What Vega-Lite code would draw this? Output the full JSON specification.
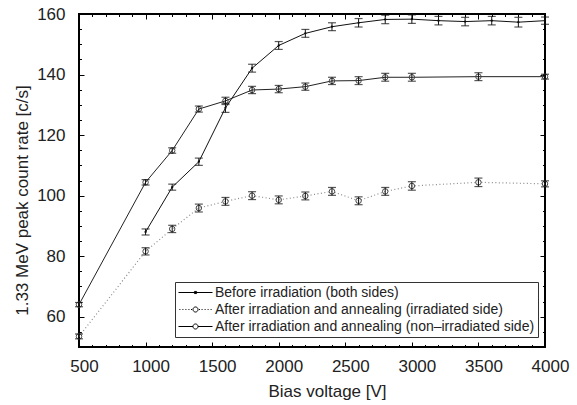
{
  "$schema": "https://vega.github.io/schema/vega-lite/v6.json",
  "width": 466,
  "height": 333,
  "autosize": "none",
  "padding": {"left": 79, "top": 14, "right": 32, "bottom": 58},
  "background": "white",
  "config": {
    "view": {"stroke": "#000", "strokeWidth": 2},
    "axis": {"grid": false, "labelFont": "Liberation Sans", "titleFont": "Liberation Sans", "labelFontSize": 17, "titleFontSize": 17, "labelColor": "#222", "titleColor": "#222", "titleFontWeight": "normal", "tickColor": "#000", "tickWidth": 1, "domain": false, "format": "d"},
    "legend": {"labelFont": "Liberation Sans"}
  },
  "data": {"values": [
    {"s": "Before irradiation (both sides)", "v": 1000, "c": 88.0, "e": 1.0},
    {"s": "Before irradiation (both sides)", "v": 1200, "c": 102.8, "e": 1.0},
    {"s": "Before irradiation (both sides)", "v": 1400, "c": 111.2, "e": 1.2},
    {"s": "Before irradiation (both sides)", "v": 1600, "c": 129.0, "e": 1.5},
    {"s": "Before irradiation (both sides)", "v": 1800, "c": 142.1, "e": 1.3},
    {"s": "Before irradiation (both sides)", "v": 2000, "c": 149.6, "e": 1.3},
    {"s": "Before irradiation (both sides)", "v": 2200, "c": 153.6, "e": 1.3},
    {"s": "Before irradiation (both sides)", "v": 2400, "c": 155.8, "e": 1.3},
    {"s": "Before irradiation (both sides)", "v": 2600, "c": 157.1, "e": 1.4},
    {"s": "Before irradiation (both sides)", "v": 2800, "c": 158.2, "e": 1.4},
    {"s": "Before irradiation (both sides)", "v": 3000, "c": 158.3, "e": 1.4},
    {"s": "Before irradiation (both sides)", "v": 3200, "c": 157.8, "e": 1.4},
    {"s": "Before irradiation (both sides)", "v": 3400, "c": 157.5, "e": 1.4},
    {"s": "Before irradiation (both sides)", "v": 3600, "c": 157.8, "e": 1.4},
    {"s": "Before irradiation (both sides)", "v": 3800, "c": 157.3, "e": 1.6},
    {"s": "Before irradiation (both sides)", "v": 4000, "c": 157.8, "e": 1.2},
    {"s": "After irradiation and annealing (irradiated side)", "v": 500, "c": 53.5, "e": 0.8},
    {"s": "After irradiation and annealing (irradiated side)", "v": 1000, "c": 81.6, "e": 1.2},
    {"s": "After irradiation and annealing (irradiated side)", "v": 1200, "c": 89.0, "e": 1.2},
    {"s": "After irradiation and annealing (irradiated side)", "v": 1400, "c": 95.9, "e": 1.3},
    {"s": "After irradiation and annealing (irradiated side)", "v": 1600, "c": 98.1, "e": 1.3},
    {"s": "After irradiation and annealing (irradiated side)", "v": 1800, "c": 100.0, "e": 1.3},
    {"s": "After irradiation and annealing (irradiated side)", "v": 2000, "c": 98.6, "e": 1.3},
    {"s": "After irradiation and annealing (irradiated side)", "v": 2200, "c": 99.9, "e": 1.3},
    {"s": "After irradiation and annealing (irradiated side)", "v": 2400, "c": 101.4, "e": 1.3},
    {"s": "After irradiation and annealing (irradiated side)", "v": 2600, "c": 98.3, "e": 1.3},
    {"s": "After irradiation and annealing (irradiated side)", "v": 2800, "c": 101.4, "e": 1.3},
    {"s": "After irradiation and annealing (irradiated side)", "v": 3000, "c": 103.2, "e": 1.4},
    {"s": "After irradiation and annealing (irradiated side)", "v": 3500, "c": 104.4, "e": 1.4},
    {"s": "After irradiation and annealing (irradiated side)", "v": 4000, "c": 103.9, "e": 1.0},
    {"s": "After irradiation and annealing (non–irradiated side)", "v": 500, "c": 64.0, "e": 0.7},
    {"s": "After irradiation and annealing (non–irradiated side)", "v": 1000, "c": 104.4, "e": 0.9},
    {"s": "After irradiation and annealing (non–irradiated side)", "v": 1200, "c": 114.9, "e": 0.9},
    {"s": "After irradiation and annealing (non–irradiated side)", "v": 1400, "c": 128.6, "e": 1.0},
    {"s": "After irradiation and annealing (non–irradiated side)", "v": 1600, "c": 131.3, "e": 1.2},
    {"s": "After irradiation and annealing (non–irradiated side)", "v": 1800, "c": 134.9, "e": 1.2},
    {"s": "After irradiation and annealing (non–irradiated side)", "v": 2000, "c": 135.2, "e": 1.2},
    {"s": "After irradiation and annealing (non–irradiated side)", "v": 2200, "c": 136.0, "e": 1.2},
    {"s": "After irradiation and annealing (non–irradiated side)", "v": 2400, "c": 137.9, "e": 1.2},
    {"s": "After irradiation and annealing (non–irradiated side)", "v": 2600, "c": 138.0, "e": 1.3},
    {"s": "After irradiation and annealing (non–irradiated side)", "v": 2800, "c": 139.1, "e": 1.3},
    {"s": "After irradiation and annealing (non–irradiated side)", "v": 3000, "c": 139.1, "e": 1.3},
    {"s": "After irradiation and annealing (non–irradiated side)", "v": 3500, "c": 139.3, "e": 1.3},
    {"s": "After irradiation and annealing (non–irradiated side)", "v": 4000, "c": 139.3, "e": 0.8}
  ]},
  "resolve": {"axis": {"x": "independent", "y": "independent"}},
  "layer": [
    {
      "transform": [{"filter": "datum.s === 'After irradiation and annealing (irradiated side)'"}],
      "mark": {"type": "line", "stroke": "#8a8a8a", "strokeWidth": 1.2, "strokeDash": [1, 2.5]},
      "encoding": {
        "x": {"field": "v", "type": "quantitative", "scale": {"domain": [500, 4000], "nice": false, "zero": false},
              "axis": {"orient": "bottom", "title": "Bias voltage [V]", "values": [500, 1000, 1500, 2000, 2500, 3000, 3500, 4000], "format": "d", "ticks": false, "labelPadding": 11, "labelOffset": 5, "labelFlush": false, "labelOverlap": false, "titleX": 248, "titleY": 49, "titleBaseline": "alphabetic", "titleAlign": "center", "titleAnchor": null}},
        "y": {"field": "c", "type": "quantitative", "scale": {"domain": [50, 160], "nice": false, "zero": false},
              "axis": {"orient": "left", "title": "1.33 MeV peak count rate [c/s]", "values": [60, 80, 100, 120, 140, 160], "format": "d", "ticks": false, "labelPadding": 14, "labelFlush": false, "titleX": -57, "titleY": 186, "titleAngle": -90, "titleBaseline": "middle", "titleAlign": "center", "titleAnchor": null}}
      }
    },
    {
      "transform": [{"filter": "datum.s === 'After irradiation and annealing (non–irradiated side)'"}],
      "mark": {"type": "line", "stroke": "#222", "strokeWidth": 1},
      "encoding": {
        "x": {"field": "v", "type": "quantitative", "scale": {"domain": [500, 4000], "nice": false, "zero": false},
              "axis": {"orient": "bottom", "title": null, "labels": false, "offset": -5, "tickSize": 5, "values": [500, 1000, 1500, 2000, 2500, 3000, 3500, 4000]}},
        "y": {"field": "c", "type": "quantitative", "scale": {"domain": [50, 160], "nice": false, "zero": false},
              "axis": {"orient": "left", "title": null, "labels": false, "offset": -5, "tickSize": 5, "values": [60, 80, 100, 120, 140, 160]}}
      }
    },
    {
      "transform": [{"filter": "datum.s === 'Before irradiation (both sides)'"}],
      "mark": {"type": "line", "stroke": "#111", "strokeWidth": 1},
      "encoding": {
        "x": {"field": "v", "type": "quantitative", "scale": {"domain": [500, 4000], "nice": false, "zero": false},
              "axis": {"orient": "bottom", "title": null, "labels": false, "offset": -2.5, "tickSize": 2.5, "values": [600, 700, 800, 900, 1100, 1200, 1300, 1400, 1600, 1700, 1800, 1900, 2100, 2200, 2300, 2400, 2600, 2700, 2800, 2900, 3100, 3200, 3300, 3400, 3600, 3700, 3800, 3900]}},
        "y": {"field": "c", "type": "quantitative", "scale": {"domain": [50, 160], "nice": false, "zero": false},
              "axis": {"orient": "left", "title": null, "labels": false, "offset": -2.5, "tickSize": 2.5, "values": [55, 65, 70, 75, 85, 90, 95, 105, 110, 115, 125, 130, 135, 145, 150, 155]}}
      }
    },
    {
      "transform": [{"filter": "datum.s !== 'Before irradiation (both sides)'"}],
      "mark": {"type": "point", "filled": false, "stroke": "#444", "strokeWidth": 1, "size": 30, "opacity": 1},
      "encoding": {
        "x": {"field": "v", "type": "quantitative", "scale": {"domain": [500, 4000], "nice": false, "zero": false},
              "axis": {"orient": "top", "title": null, "labels": false, "offset": -5, "tickSize": 5, "values": [500, 1000, 1500, 2000, 2500, 3000, 3500, 4000]}},
        "y": {"field": "c", "type": "quantitative", "scale": {"domain": [50, 160], "nice": false, "zero": false},
              "axis": {"orient": "right", "title": null, "labels": false, "offset": -5, "tickSize": 5, "values": [60, 80, 100, 120, 140, 160]}}
      }
    },
    {
      "transform": [{"filter": "datum.s === 'Before irradiation (both sides)'"}],
      "mark": {"type": "point", "filled": true, "fill": "#000", "size": 5, "opacity": 1},
      "encoding": {
        "x": {"field": "v", "type": "quantitative", "scale": {"domain": [500, 4000], "nice": false, "zero": false},
              "axis": {"orient": "top", "title": null, "labels": false, "offset": -2.5, "tickSize": 2.5, "values": [600, 700, 800, 900, 1100, 1200, 1300, 1400, 1600, 1700, 1800, 1900, 2100, 2200, 2300, 2400, 2600, 2700, 2800, 2900, 3100, 3200, 3300, 3400, 3600, 3700, 3800, 3900]}},
        "y": {"field": "c", "type": "quantitative", "scale": {"domain": [50, 160], "nice": false, "zero": false},
              "axis": {"orient": "right", "title": null, "labels": false, "offset": -2.5, "tickSize": 2.5, "values": [55, 65, 70, 75, 85, 90, 95, 105, 110, 115, 125, 130, 135, 145, 150, 155]}}
      }
    },
    {
      "mark": {"type": "errorbar", "ticks": {"size": 8, "thickness": 1.2, "color": "#111"}, "rule": {"strokeWidth": 1, "color": "#111"}},
      "encoding": {
        "x": {"field": "v", "type": "quantitative", "scale": {"domain": [500, 4000], "nice": false, "zero": false}, "axis": null},
        "y": {"field": "c", "type": "quantitative", "scale": {"domain": [50, 160], "nice": false, "zero": false}, "axis": null},
        "yError": {"field": "e"}
      }
    },
    {
      "mark": {"type": "point", "filled": false, "opacity": 0, "stroke": "#000"},
      "encoding": {
        "x": {"field": "v", "type": "quantitative", "scale": {"domain": [500, 4000], "nice": false, "zero": false}, "axis": null},
        "y": {"field": "c", "type": "quantitative", "scale": {"domain": [50, 160], "nice": false, "zero": false}, "axis": null},
        "shape": {"field": "s", "type": "nominal",
          "scale": {"domain": ["Before irradiation (both sides)", "After irradiation and annealing (irradiated side)", "After irradiation and annealing (non–irradiated side)"],
                    "range": ["M-2.43,0H2.43M-0.15,-0.15H0.15V0.15H-0.15Z",
                              "M-2.3,0H-2.16M-1.87,0H-1.73M-1.44,0H-1.3M-1.01,0H-0.87M-0.64,0H-0.5M0.5,0H0.64M0.87,0H1.01M1.3,0H1.44M1.73,0H1.87M2.16,0H2.3M-0.36,0A0.36,0.36 0 1 1 0.36,0A0.36,0.36 0 1 1 -0.36,0",
                              "M-2.43,0H-0.36M0.36,0H2.43M-0.36,0A0.36,0.36 0 1 1 0.36,0A0.36,0.36 0 1 1 -0.36,0"]},
          "legend": {"title": null, "orient": "none", "legendX": 96, "legendY": 268, "symbolSize": 196, "symbolOffset": 10, "symbolOpacity": 1, "symbolStrokeColor": "#000", "symbolFillColor": "transparent", "symbolStrokeWidth": 1, "labelFontSize": 14, "labelColor": "#222", "labelOffset": 12, "labelLimit": 0, "strokeColor": "#333", "fillColor": "white", "padding": 3, "rowPadding": 2}
        }
      }
    }
  ]
}
